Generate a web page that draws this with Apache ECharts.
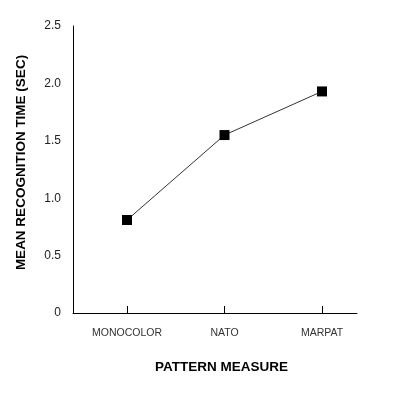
<!DOCTYPE html>
<html><head><meta charset="utf-8">
<script src="https://cdn.jsdelivr.net/npm/echarts@6/dist/echarts.min.js"></script>
<style>html,body{margin:0;padding:0;background:#fff}#c{width:394px;height:406px}</style>
</head><body><div id="c"></div>
<script>
const categories = ['MONOCOLOR', 'NATO', 'MARPAT'];
const recognitionTime = [0.81, 1.55, 1.93];
const yTicks = [0, 0.5, 1.0, 1.5, 2.0, 2.5];
const xTitle = 'PATTERN MEASURE';
const yTitle = 'MEAN RECOGNITION TIME (SEC)';

const chart = echarts.init(document.getElementById('c'));
const font = 'Liberation Sans, Arial, sans-serif';
chart.setOption({
  animation: false,
  grid: [
    {left: 73, right: 37, top: 26, bottom: 93},
    {left: 127, right: 72, top: 26, bottom: 93}
  ],
  xAxis: [
    {gridIndex: 0, type: 'value', min: 0, max: 1,
     axisLine: {show: true, lineStyle: {color: '#000', width: 1}},
     axisTick: {show: false}, axisLabel: {show: false}, splitLine: {show: false}},
    {gridIndex: 1, type: 'category', data: categories, boundaryGap: false,
     axisLine: {show: false},
     axisTick: {show: true, inside: true, length: 7, lineStyle: {color: '#000'}},
     axisLabel: {color: '#333', fontSize: 10.5, fontFamily: font, margin: 15},
     name: xTitle, nameLocation: 'middle', nameGap: 47,
     nameTextStyle: {fontSize: 13.5, fontWeight: 'bold', color: '#000', fontFamily: font, padding: [0, 6, 0, 0]}}
  ],
  yAxis: [
    {gridIndex: 0, type: 'value', min: 0, max: 2.5, interval: 0.5,
     axisLine: {show: true, lineStyle: {color: '#000', width: 1}},
     axisTick: {show: false},
     axisLabel: {color: '#222', fontSize: 12, fontFamily: font, margin: 12,
       formatter: v => { const t = yTicks.find(x => Math.abs(x - v) < 1e-9); return t === 0 ? '0' : t.toFixed(1); }},
     splitLine: {show: false},
     name: yTitle, nameLocation: 'middle', nameGap: 45,
     nameTextStyle: {fontSize: 13.5, fontWeight: 'bold', color: '#000', fontFamily: font, padding: [0, 0, 0, 14]}},
    {gridIndex: 1, type: 'value', min: 0, max: 2.5, show: false}
  ],
  series: [{
    type: 'line', xAxisIndex: 1, yAxisIndex: 1,
    data: recognitionTime,
    symbol: 'rect', symbolSize: 10,
    itemStyle: {color: '#000'},
    lineStyle: {color: '#333', width: 1}
  }]
});
</script></body></html>
